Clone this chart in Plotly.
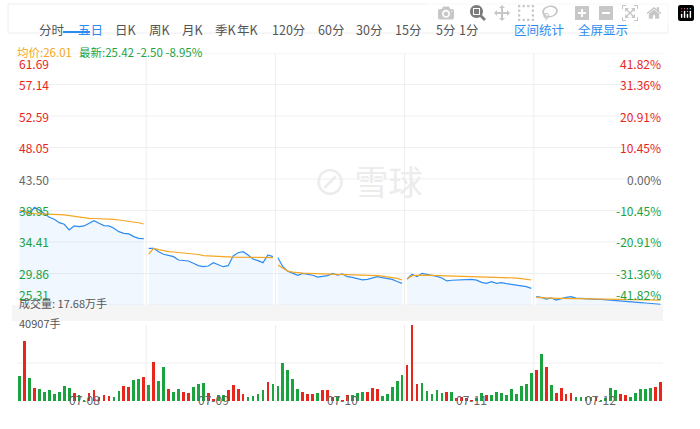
import plotly.graph_objects as go

days = ["07-08", "07-09", "07-10", "07-11", "07-12"]
price = [
 [38.64,38.93,38.45,39.41,39.03,38.55,37.97,37.68,37.20,36.96,36.14,36.72,36.62,36.72,37.10,37.49,37.10,36.77,36.72,36.38,35.90,35.66,35.57,35.18,34.94,34.89],
 [33.49,33.49,33.01,32.63,32.48,32.29,31.81,31.71,31.66,31.33,30.99,30.84,30.94,31.42,31.08,30.84,30.99,32.39,32.86,33.01,32.53,31.95,31.71,31.42,32.53,32.29],
 [32.14,30.84,30.20,29.90,29.60,29.88,29.74,29.60,29.35,29.45,29.55,29.88,29.64,29.80,29.40,29.30,29.16,28.95,29.02,29.25,29.40,29.25,29.10,29.00,28.70,28.44],
 [29.06,29.74,29.40,29.88,29.74,29.64,29.45,29.20,28.78,28.88,28.92,28.92,28.92,29.00,28.90,28.58,28.44,28.68,28.44,28.53,28.40,28.29,28.20,28.10,27.95,27.72],
 [26.51,26.41,26.17,26.35,26.03,26.27,26.40,26.51,26.30,26.27,26.20,26.12,26.12,26.12,26.05,26.00,25.89,25.85,25.80,25.79,25.72,25.65,25.60,25.52,25.47,25.42],
]
avg = [
 [39.03,38.79,38.60,38.50,38.45,38.45,38.45,38.40,38.35,38.31,38.20,38.06,38.00,37.90,37.83,37.80,37.78,37.75,37.73,37.68,37.58,37.50,37.40,37.30,37.18,37.00],
 [32.67,33.49,33.30,33.10,33.01,32.96,32.90,32.86,32.80,32.72,32.60,32.45,32.39,32.35,32.30,32.29,32.25,32.22,32.20,32.19,32.18,32.17,32.16,32.15,32.14,32.14],
 [31.08,30.60,30.20,30.05,29.95,29.90,29.88,29.86,29.85,29.84,29.82,29.80,29.78,29.76,29.74,29.72,29.70,29.66,29.62,29.58,29.54,29.48,29.40,29.30,29.15,28.92],
 [29.06,29.55,29.60,29.64,29.62,29.60,29.58,29.55,29.52,29.50,29.48,29.46,29.44,29.42,29.40,29.38,29.35,29.33,29.30,29.28,29.26,29.24,29.20,29.12,29.02,28.92],
 [26.40,26.35,26.30,26.28,26.27,26.26,26.25,26.24,26.23,26.22,26.21,26.20,26.18,26.17,26.16,26.15,26.14,26.13,26.12,26.10,26.09,26.08,26.06,26.04,26.02,26.01],
]
volume = [13300,32400,12500,7100,6200,4800,5900,3600,5000,8000,6800,4100,3000,500,4400,5700,2300,3200,2700,2300,5300,8000,7600,11200,11600,13000,
 8500,21000,10700,18200,6600,4800,6200,4800,4400,7600,8900,9800,4400,900,3000,3000,5900,8500,6200,3900,2300,2700,3600,5700,10300,8900,
 8000,20500,16600,11600,6200,5000,3600,3600,4400,5700,5700,2100,2300,500,3200,3200,4400,4800,4800,7100,6200,2700,3600,7500,10700,13900,
 19600,40907,8900,9800,5300,3600,5900,4100,4800,4800,1800,2300,1400,500,1800,4100,3200,3000,4800,4100,3000,6600,3900,8000,8900,15100,
 16900,25400,18200,8400,4400,6800,3900,4100,2100,2100,2300,2100,2100,500,1800,6800,5700,3600,3000,2100,4100,6600,6600,6800,7600,10300]
vol_up = "GRGRGGGGGGGRGGRRRRRGGRRGGRGRGGRGGRRGGGRRGGRRRRGGGGRGGGGGGRRRGRRRGRRGGGRRRGGGGGRRRGGGGGRGRRRRGGRGGGGGGGGGRGRGRRRRGGGGRGGGGRRGGGGGR"
vol_up = (vol_up + "G" * len(volume))[:len(volume) - 1] + "R"
price_ticks = [61.69,57.14,52.59,48.05,43.50,38.95,34.41,29.86,25.31]
pct_ticks = ["41.82%","31.36%","20.91%","10.45%","0.00%","-10.45%","-20.91%","-31.36%","-41.82%"]
tabs = ["分时","五日","日K","周K","月K","季K","年K","120分","60分","30分","15分","5分","1分"]

RED, GREEN, GRAY = "#e8261b", "#1aa33f", "#666"
BLUE, ORANGE = "#2d8cf0", "#f5a623"
H = 429
def py(px):
    return (H - px) / H

n = len(price[0])
fig = go.Figure()
for d in range(len(days)):
    xs = list(range(d*n, d*n+n))
    fig.add_trace(go.Scatter(x=xs, y=price[d], mode="lines", line=dict(color=BLUE, width=1.2),
                             fill="tozeroy", fillcolor="rgba(45,140,240,0.07)", hoverinfo="skip"))
    fig.add_trace(go.Scatter(x=xs, y=avg[d], mode="lines", line=dict(color=ORANGE, width=1.2), hoverinfo="skip"))
fig.add_trace(go.Bar(x=list(range(len(volume))), y=volume, yaxis="y2", width=0.55,
                     marker=dict(color=[RED if c == "R" else GREEN for c in vol_up], line_width=0)))

total = n*len(days)
fig.update_layout(
    width=700, height=H, margin=dict(l=0, r=0, t=0, b=0), showlegend=False,
    paper_bgcolor="white", plot_bgcolor="white", bargap=0,
    font=dict(family="Noto Sans CJK SC", size=12, color=GRAY),
    xaxis=dict(domain=[17/700, 663/700], range=[-0.5, total-0.5], showgrid=False, showticklabels=False, zeroline=False, anchor="y2"),
    yaxis=dict(domain=[py(305), py(53)], range=[25.31, 61.69], showticklabels=False, showgrid=False, zeroline=False),
    yaxis2=dict(domain=[py(401), py(325)], range=[0, 40907], showticklabels=False, showgrid=False, zeroline=False),
)
for p in price_ticks:
    fig.add_shape(type="line", xref="x", yref="y", x0=-0.5, x1=total-0.5, y0=p, y1=p, line=dict(color="#f0f0f0", width=1), layer="below")
fig.add_shape(type="line", xref="x", yref="y2", x0=-0.5, x1=total-0.5, y0=40907/2, y1=40907/2, line=dict(color="#f0f0f0", width=1), layer="below")
for d in range(1, len(days)):
    for yr, lo, hi in [("y", 25.31, 61.69), ("y2", 0, 40907)]:
        fig.add_shape(type="line", xref="x", yref=yr, x0=d*n-0.5, x1=d*n-0.5, y0=lo, y1=hi, line=dict(color="#eeeeee", width=1), layer="below")
for i, (p, t) in enumerate(zip(price_ticks, pct_ticks)):
    col = RED if p > 43.5 else (GREEN if p < 43.5 else GRAY)
    ya = "top" if i == 0 else ("bottom" if i == len(price_ticks)-1 else "middle")
    fig.add_annotation(x=17/700, xref="paper", y=p, yref="y", text=f"{p:.2f}", showarrow=False, xanchor="left", yanchor=ya, font=dict(color=col, size=12))
    fig.add_annotation(x=663/700, xref="paper", y=p, yref="y", text=t, showarrow=False, xanchor="right", yanchor=ya, font=dict(color=col, size=12))
for d, lab in enumerate(days):
    fig.add_annotation(x=d*n+n/2, xref="x", y=py(410), yref="paper", text=lab, showarrow=False, font=dict(size=12, color=GRAY))
fig.add_shape(type="rect", xref="paper", yref="paper", x0=12/700, x1=663/700, y0=py(321), y1=py(305), fillcolor="#f5f5f5", line_width=0, layer="below")
fig.add_annotation(x=17/700, xref="paper", y=py(313), yref="paper", text="成交量: 17.68万手", showarrow=False, xanchor="left", font=dict(size=11, color="#555"))
fig.add_annotation(x=17/700, xref="paper", y=py(333), yref="paper", text="40907手", showarrow=False, xanchor="left", font=dict(size=11, color="#555"))
fig.add_shape(type="rect", xref="paper", yref="paper", x0=8/700, x1=668/700, y0=py(33), y1=py(4), line=dict(color="#eeeeee", width=1), fillcolor="white")
tx = [37, 76, 113, 147, 180, 213, 248, 288, 331, 369, 408, 445, 480]
for t, x in zip(tabs, tx):
    fig.add_annotation(x=x/700, xref="paper", y=py(18), yref="paper", text=t, showarrow=False, font=dict(size=12.5, color=BLUE if t == "五日" else "#555"))
fig.add_shape(type="line", xref="paper", yref="paper", x0=63/700, x1=90/700, y0=py(32), y1=py(32), line=dict(color=BLUE, width=2))
fig.add_annotation(x=566/700, xref="paper", y=py(18), yref="paper", text="区间统计", showarrow=False, font=dict(size=12.5, color=BLUE))
fig.add_annotation(x=630/700, xref="paper", y=py(18), yref="paper", text="全屏显示", showarrow=False, font=dict(size=12.5, color=BLUE))
fig.add_annotation(x=15/700, xref="paper", y=py(42), yref="paper", text=f"均价:{avg[-1][-1]:.2f}", showarrow=False, xanchor="left", font=dict(size=11.5, color=ORANGE))
fig.add_annotation(x=77/700, xref="paper", y=py(42), yref="paper", text=f"最新:{price[-1][-1]:.2f} -2.50 -8.95%", showarrow=False, xanchor="left", font=dict(size=11.5, color=GREEN))
fig.add_annotation(x=368/700, xref="paper", y=py(180), yref="paper", text="⊘ 雪球", showarrow=False, font=dict(size=34, color="#ececec"))
fig.write_html("out.html")
with open("out.html", encoding="utf-8") as f:
    html = f.read()
html = html.replace("<head>", "<head><style>html,body{margin:0;padding:0;}</style>", 1)
with open("out.html", "w", encoding="utf-8") as f:
    f.write(html)
